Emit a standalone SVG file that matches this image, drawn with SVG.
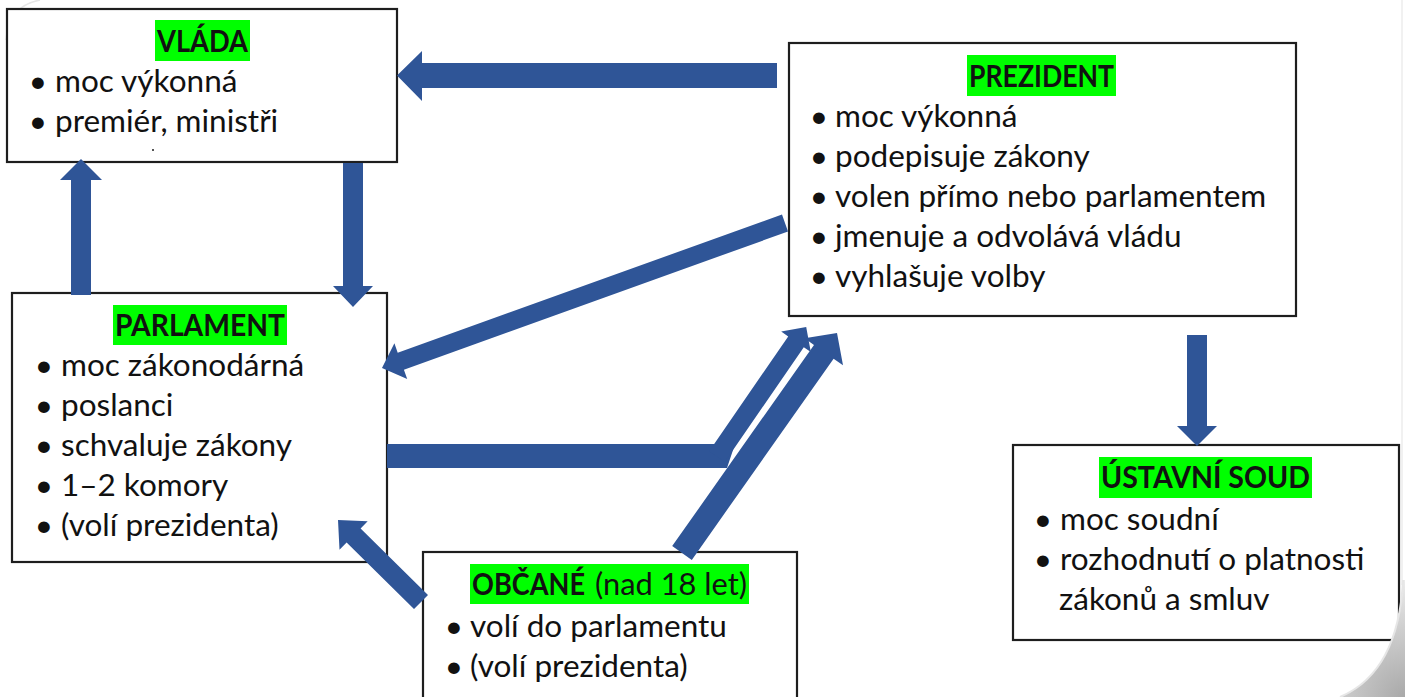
<svg xmlns="http://www.w3.org/2000/svg" width="1405" height="697" viewBox="0 0 1405 697">
<defs>
<style>
.box{fill:#fff;stroke:#1e1e1e;stroke-width:2.2}
.hl{fill:#00ff00}
.t{font-family:Lato,"Liberation Sans",sans-serif;font-size:31.5px;fill:#111}
.b{font-weight:bold;font-size:30px}
.bul{font-family:Lato,"Liberation Sans",sans-serif;font-size:31.5px;fill:#111;text-anchor:middle}
.arr{fill:#2f5597}
</style>
<radialGradient id="curl" cx="1405" cy="697" r="130" gradientUnits="userSpaceOnUse">
<stop offset="0" stop-color="#a9a9a9"/>
<stop offset="0.6" stop-color="#d4d4d4"/>
<stop offset="1" stop-color="#f4f4f4"/>
</radialGradient>
</defs>
<rect x="0" y="0" width="1405" height="697" fill="#fff"/>
<g id="page">
<path d="M6,40 Q8,6 40,0" fill="none" stroke="#e6e6e6" stroke-width="1.5"/>
<line x1="1402" y1="0" x2="1402" y2="585" stroke="#ececec" stroke-width="1.5"/>
</g>

<g id="vlada">
<rect class="box" x="7" y="9" width="390" height="153"/>
<rect class="hl" x="155" y="20" width="95" height="41"/>
<text class="t b" x="157" y="52" textLength="91" lengthAdjust="spacingAndGlyphs">VLÁDA</text>
<text class="bul" x="38" y="92">•</text>
<text class="t" x="55" y="92">moc výkonná</text>
<text class="bul" x="38" y="132">•</text>
<text class="t" x="55" y="132">premiér, ministři</text>
<rect x="152" y="149" width="2" height="2" fill="#555"/>
</g>

<g id="prezident">
<rect class="box" x="789" y="43" width="507" height="273"/>
<rect class="hl" x="967" y="55" width="149" height="41"/>
<text class="t b" x="969" y="87" textLength="145" lengthAdjust="spacingAndGlyphs">PREZIDENT</text>
<text class="bul" x="819" y="127">•</text>
<text class="t" x="835" y="127">moc výkonná</text>
<text class="bul" x="819" y="167">•</text>
<text class="t" x="835" y="167">podepisuje zákony</text>
<text class="bul" x="819" y="207">•</text>
<text class="t" x="835" y="207">volen přímo nebo parlamentem</text>
<text class="bul" x="819" y="247">•</text>
<text class="t" x="835" y="247">jmenuje a odvolává vládu</text>
<text class="bul" x="819" y="287">•</text>
<text class="t" x="835" y="287">vyhlašuje volby</text>
</g>

<g id="parlament">
<rect class="box" x="12" y="293" width="375" height="269"/>
<rect class="hl" x="113" y="305" width="174" height="40"/>
<text class="t b" x="115" y="336" textLength="170" lengthAdjust="spacingAndGlyphs">PARLAMENT</text>
<text class="bul" x="44" y="376">•</text>
<text class="t" x="61" y="376">moc zákonodárná</text>
<text class="bul" x="44" y="416">•</text>
<text class="t" x="61" y="416">poslanci</text>
<text class="bul" x="44" y="456">•</text>
<text class="t" x="61" y="456">schvaluje zákony</text>
<text class="bul" x="44" y="496">•</text>
<text class="t" x="61" y="496">1–2 komory</text>
<text class="bul" x="44" y="536">•</text>
<text class="t" x="61" y="536">(volí prezidenta)</text>
</g>

<g id="ustavni-soud">
<rect class="box" x="1013" y="445" width="386" height="195"/>
<rect class="hl" x="1099" y="457" width="213" height="41"/>
<text class="t b" x="1101" y="488" textLength="209" lengthAdjust="spacingAndGlyphs">ÚSTAVNÍ SOUD</text>
<text class="bul" x="1043" y="530">•</text>
<text class="t" x="1060" y="530">moc soudní</text>
<text class="bul" x="1043" y="570">•</text>
<text class="t" x="1060" y="570">rozhodnutí o platnosti</text>
<text class="t" x="1059" y="610">zákonů a smluv</text>
</g>

<g id="obcane">
<rect class="box" x="423" y="552" width="374" height="160"/>
<rect class="hl" x="470" y="564" width="279" height="40"/>
<text class="t b" x="472" y="595" textLength="113" lengthAdjust="spacingAndGlyphs">OBČANÉ</text>
<text class="t" x="595" y="595" textLength="152" lengthAdjust="spacingAndGlyphs">(nad 18 let)</text>
<text class="bul" x="454" y="637">•</text>
<text class="t" x="470" y="637">volí do parlamentu</text>
<text class="bul" x="454" y="677">•</text>
<text class="t" x="470" y="677">(volí prezidenta)</text>
</g>

<g id="connectors">
<polygon class="arr" points="777,63 422,63 422,51 397,75.5 422,101 422,88 777,88"/>
<polygon class="arr" points="788,231.5 403.9,369.7 407.2,379.1 382,368 394.4,343.3 397.7,352.7 782,214.5"/>
<polygon class="arr" points="343,163 343,286 333,286 353,307 373,286 363,286 363,163"/>
<polygon class="arr" points="71,295 71,180 60,180 81,159 102,180 91,180 91,295"/>
<polygon class="arr" points="1187,335 1187,426 1177,426 1197,446 1217,426 1207,426 1207,335"/>
<polygon class="arr" points="428,594.9 360.6,528.4 367.7,521.3 338,520 339.5,549.7 346.6,542.6 414,609.1"/>
<polygon class="arr" points="387,444 735,444 727,468 387,468"/>
<polygon class="arr" points="709.2,451.2 788.2,336.4 781.2,331.6 806.2,327 810.8,352 803.8,347.2 724.8,462"/>
<polygon class="arr" points="672.2,546.1 814,344.9 804.6,338.3 837,333 843,365.3 833.6,358.7 691.8,559.9"/>
</g>

<g id="page-curl">
<path d="M1403,580 C1400,640 1380,680 1340,697 L1405,697 L1405,580 Z" fill="url(#curl)"/>
<path d="M1403,580 C1400,640 1380,680 1340,697" fill="none" stroke="#e6e6e6" stroke-width="2"/>
</g>
</svg>
